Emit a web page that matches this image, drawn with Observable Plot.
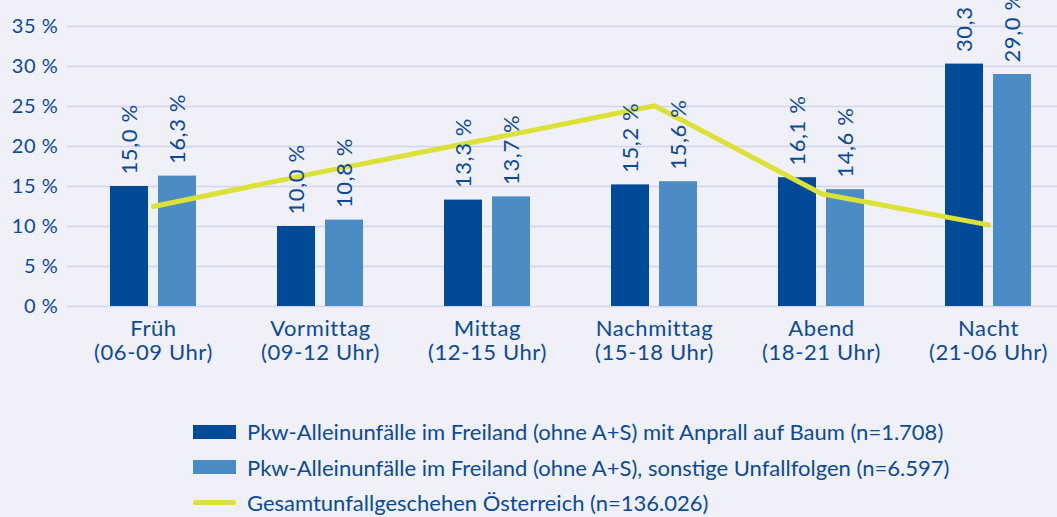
<!DOCTYPE html>
<html>
<head>
<meta charset="utf-8">
<script src="https://cdn.jsdelivr.net/npm/d3@7"></script>
<script src="https://cdn.jsdelivr.net/npm/@observablehq/plot@0.6"></script>
<style>
  html, body { margin: 0; padding: 0; background: #eff0f8; overflow: hidden; }
  #wrap { position: relative; width: 1057px; height: 517px; background: #eff0f8; font-family: Lato, "Open Sans", sans-serif; color: #0b4a98; }
  #chart svg { overflow: visible; }
  #chart text { letter-spacing: 0.6px; }
  #legend { position: absolute; left: 193px; top: 414px; }
  .row { display: flex; align-items: center; height: 35.5px; font-size: 22px; }
  .sw { width: 43px; margin-right: 11px; }
</style>
</head>
<body>
<div id="wrap">
  <div id="chart"></div>
  <div id="legend"></div>
</div>
<script>
const categories = ["Früh", "Vormittag", "Mittag", "Nachmittag", "Abend", "Nacht"];
const times = ["(06-09 Uhr)", "(09-12 Uhr)", "(12-15 Uhr)", "(15-18 Uhr)", "(18-21 Uhr)", "(21-06 Uhr)"];
const baum = [15.0, 10.0, 13.3, 15.2, 16.1, 30.3];
const sonstige = [16.3, 10.8, 13.7, 15.6, 14.6, 29.0];
const gesamt = [12.5, 16.8, 20.9, 25.1, 14.1, 10.2];
const yTicks = [0, 5, 10, 15, 20, 25, 30, 35];
const seriesNames = [
  "Pkw-Alleinunfälle im Freiland (ohne A+S) mit Anprall auf Baum (n=1.708)",
  "Pkw-Alleinunfälle im Freiland (ohne A+S), sonstige Unfallfolgen (n=6.597)",
  "Gesamtunfallgeschehen Österreich (n=136.026)"
];
const colors = ["#004a98", "#4a8cc3", "#dde137"];
const textColor = "#0b4a98";

const rows = categories.map((c, i) => ({cat: c, time: times[i], baum: baum[i], sonstige: sonstige[i], gesamt: gesamt[i]}));
const fmt = v => v.toFixed(1).replace(".", ",") + " %";
const labelOf = Object.fromEntries(categories.map((c, i) => [c, c + "\n" + times[i]]));

const chart = Plot.plot({
  width: 1057,
  height: 375,
  marginTop: 26,
  marginBottom: 69,
  marginLeft: 67,
  marginRight: 0,
  style: {background: "transparent", fontFamily: "Lato, 'Open Sans', sans-serif", color: textColor, overflow: "visible"},
  x: {domain: categories, range: [67, 1073], paddingInner: 0.7734, paddingOuter: 0.3867},
  y: {domain: [0, 35]},
  marks: [
    Plot.ruleY(yTicks, {stroke: "#d4d4ee", strokeWidth: 1.5}),
    Plot.barY(rows, {x: "cat", y: "baum", fill: colors[0], dx: -24}),
    Plot.barY(rows, {x: "cat", y: "sonstige", fill: colors[1], dx: 24}),
    Plot.line(rows, {x: "cat", y: "gesamt", stroke: colors[2], strokeWidth: 5, strokeLinecap: "round", strokeLinejoin: "miter"}),
    Plot.text(rows, {x: "cat", y: "baum", text: d => fmt(d.baum), rotate: -90, textAnchor: "start", dx: -24, dy: -12, fontSize: 22, fill: textColor}),
    Plot.text(rows, {x: "cat", y: "sonstige", text: d => fmt(d.sonstige), rotate: -90, textAnchor: "start", dx: 24, dy: -12, fontSize: 22, fill: textColor}),
    Plot.axisY({ticks: yTicks, tickSize: 0, tickPadding: 9, tickFormat: d => d + " %", fontSize: 20, fill: textColor, label: null}),
    Plot.axisX({tickSize: 0, tickPadding: 12, tickFormat: d => labelOf[d], fontSize: 22, lineHeight: 1.1, fill: textColor, label: null})
  ]
});
document.getElementById("chart").appendChild(chart);

const legend = document.getElementById("legend");
seriesNames.forEach((name, i) => {
  const row = document.createElement("div");
  row.className = "row";
  const sw = document.createElement("div");
  sw.className = "sw";
  if (i < 2) {
    sw.style.height = "14px";
    sw.style.background = colors[i];
  } else {
    sw.style.height = "5px";
    sw.style.borderRadius = "3px";
    sw.style.background = colors[i];
  }
  const t = document.createElement("span");
  t.textContent = name;
  row.appendChild(sw);
  row.appendChild(t);
  legend.appendChild(row);
});
</script>
</body>
</html>
